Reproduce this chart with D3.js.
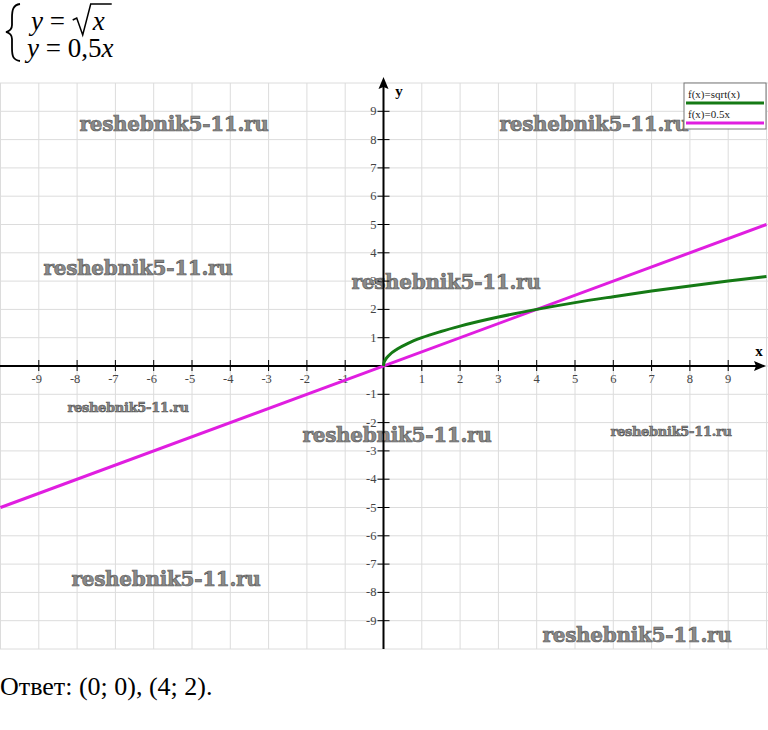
<!DOCTYPE html>
<html><head><meta charset="utf-8">
<script src="https://cdn.jsdelivr.net/npm/d3@7"></script>
<style>body{margin:0;background:#fff}svg{display:block}</style>
</head><body>
<script>
const xTicks = [-9,-8,-7,-6,-5,-4,-3,-2,-1,1,2,3,4,5,6,7,8,9];
const yTicks = [-9,-8,-7,-6,-5,-4,-3,-2,-1,1,2,3,4,5,6,7,8,9];
const gridValues = [-10,-9,-8,-7,-6,-5,-4,-3,-2,-1,0,1,2,3,4,5,6,7,8,9,10];
const sqrtX = [0,0.01,0.04,0.16,0.36,0.64,1,1.5,2,3,4,5,6,7,8,9,10];
const sqrtY = [0,0.1,0.2,0.4,0.6,0.8,1,1.22,1.41,1.73,2,2.24,2.45,2.65,2.83,3,3.16];
const lineX = [-10,10];
const lineY = [-5,5];
const legendLabels = ["f(x)=sqrt(x)","f(x)=0.5x"];
const watermark = "reshebnik5-11.ru";

const W=768,H=730;
const svg=d3.select("body").append("svg").attr("width",W).attr("height",H);
const x=d3.scaleLinear().domain([-10,10]).range([0.5,766.5]);
const y=d3.scaleLinear().domain([-10,10]).range([649,83]);

// grid
const g=svg.append("g");
g.selectAll("line.v").data(gridValues).join("line")
 .attr("x1",d=>x(d)).attr("x2",d=>x(d)).attr("y1",y(10)).attr("y2",y(-10))
 .attr("stroke","#dcdcdc").attr("stroke-width",1);
g.selectAll("line.h").data(gridValues).join("line")
 .attr("y1",d=>y(d)).attr("y2",d=>y(d)).attr("x1",0).attr("x2",W)
 .attr("stroke","#dcdcdc").attr("stroke-width",1);

// watermarks
const wm=[[174,131,20],[594,131,20],[138,275,20],[446,289,20],[128,412,13],[397,442,20],[671,436,13],[166,586,20],[637,642,20]];
svg.selectAll("text.wm").data(wm).join("text")
 .attr("x",d=>d[0]).attr("y",d=>d[1]).attr("text-anchor","middle")
 .attr("font-family","DejaVu Serif").attr("font-weight","bold")
 .attr("font-size",d=>d[2]).attr("fill","#8a8a8a").attr("stroke","#555").attr("stroke-width",0.6)
 .attr("letter-spacing",-0.3)
 .text(watermark);

// axes
const ax=svg.append("g");
ax.append("line").attr("x1",0).attr("x2",758).attr("y1",y(0)).attr("y2",y(0)).attr("stroke","#000").attr("stroke-width",2);
ax.append("line").attr("x1",x(0)).attr("x2",x(0)).attr("y1",86).attr("y2",y(-10)).attr("stroke","#000").attr("stroke-width",2);
ax.append("path").attr("d",`M766,${y(0)} L754,${y(0)-5} L756,${y(0)} L754,${y(0)+5} Z`).attr("fill","#000");
ax.append("path").attr("d",`M${x(0)},77 L${x(0)-5},89 L${x(0)},87 L${x(0)+5},89 Z`).attr("fill","#000");
ax.selectAll("line.xt").data(xTicks).join("line")
 .attr("x1",d=>x(d)).attr("x2",d=>x(d)).attr("y1",y(0)-6).attr("y2",y(0)+5).attr("stroke","#000").attr("stroke-width",1);
ax.selectAll("line.yt").data(yTicks).join("line")
 .attr("y1",d=>y(d)).attr("y2",d=>y(d)).attr("x1",x(0)-6).attr("x2",x(0)+6).attr("stroke","#000").attr("stroke-width",1);
ax.selectAll("text.xl").data(xTicks).join("text")
 .attr("x",d=>x(d)+(d<0?-2:0)).attr("y",y(0)+17).attr("text-anchor","middle")
 .attr("font-family","Liberation Serif").attr("font-size",12.5).attr("fill","#444").text(d=>d);
ax.selectAll("text.yl").data(yTicks).join("text")
 .attr("x",x(0)-7).attr("y",d=>y(d)+4).attr("text-anchor","end")
 .attr("font-family","Liberation Serif").attr("font-size",12.5).attr("fill","#444").text(d=>d);
ax.append("text").attr("x",759).attr("y",356).attr("text-anchor","middle").attr("font-family","Liberation Serif").attr("font-weight","bold").attr("font-size",15).text("x");
ax.append("text").attr("x",399).attr("y",96).attr("text-anchor","middle").attr("font-family","Liberation Serif").attr("font-weight","bold").attr("font-size",15).text("y");

// curves
const lineGen=d3.line().x(d=>x(d[0])).y(d=>y(d[1]));
svg.append("path").datum(d3.zip(lineX,lineY)).attr("d",lineGen)
 .attr("fill","none").attr("stroke","#e01ee0").attr("stroke-width",3);
svg.append("path").datum(d3.zip(sqrtX,sqrtY)).attr("d",lineGen.curve(d3.curveMonotoneX))
 .attr("fill","none").attr("stroke","#157a15").attr("stroke-width",3);

// legend
const lg=svg.append("g");
lg.append("rect").attr("x",684).attr("y",83).attr("width",82).attr("height",46).attr("fill","#fff").attr("stroke","#777").attr("stroke-width",1);
const lc=["#157a15","#e01ee0"];
legendLabels.forEach((t,i)=>{
  lg.append("text").attr("x",688).attr("y",98+i*20).attr("font-family","Liberation Serif").attr("font-size",11).attr("fill","#222").text(t);
  lg.append("line").attr("x1",686).attr("x2",764).attr("y1",103+i*20).attr("y2",103+i*20).attr("stroke",lc[i]).attr("stroke-width",3);
});

// equation system
const eq=svg.append("g").attr("font-family","Liberation Serif").attr("font-size",27).attr("fill","#000");
eq.append("path").attr("d","M20,4 C13,5 12,10 12,18 L12,25 C12,29 10,31 6,32 C10,33 12,35 12,39 L12,48 C12,56 13,60 20,61")
 .attr("fill","none").attr("stroke","#000").attr("stroke-width",1.8);
const l1=eq.append("text").attr("x",31).attr("y",30).attr("xml:space","preserve");
l1.append("tspan").attr("font-style","italic").text("y");
l1.append("tspan").text(" = ");
const e1=31+l1.node().getComputedTextLength();
eq.append("path").attr("d",`M${e1+1},20 L${e1+5},18 L${e1+11},35 L${e1+19},4 L${e1+40},4`).attr("fill","none").attr("stroke","#000").attr("stroke-width",1.5);
eq.append("text").attr("x",e1+21).attr("y",30).attr("font-style","italic").text("x");
const l2=eq.append("text").attr("x",27).attr("y",57);
l2.append("tspan").attr("font-style","italic").text("y");
l2.append("tspan").text(" = 0,5");
l2.append("tspan").attr("font-style","italic").text("x");

// answer
svg.append("text").attr("x",0).attr("y",695).attr("font-family","Liberation Serif").attr("font-size",26).attr("fill","#000").text("Ответ: (0; 0), (4; 2).");
</script>
</body></html>
